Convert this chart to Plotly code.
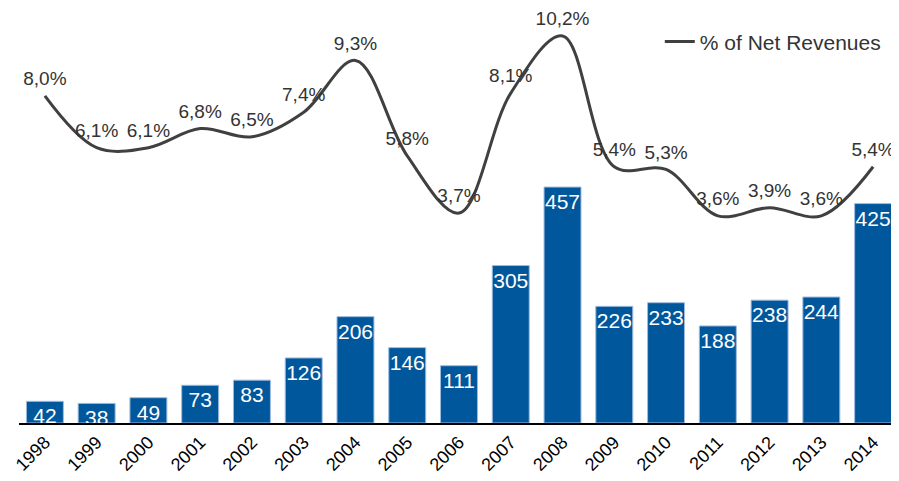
import plotly.graph_objects as go

years = ["1998", "1999", "2000", "2001", "2002", "2003", "2004", "2005", "2006",
         "2007", "2008", "2009", "2010", "2011", "2012", "2013", "2014"]
amounts = [42, 38, 49, 73, 83, 126, 206, 146, 111, 305, 457, 226, 233, 188, 238, 244, 425]
pct = [8.0, 6.1, 6.1, 6.8, 6.5, 7.4, 9.3, 5.8, 3.7, 8.1, 10.2, 5.4, 5.3, 3.6, 3.9, 3.6, 5.4]
pct_labels = [f"{v:.1f}%".replace(".", ",") for v in pct]

fig = go.Figure()
fig.add_trace(go.Bar(
    x=years, y=amounts, text=[str(v) for v in amounts],
    textposition="inside", insidetextanchor="end", textangle=0,
    constraintext="none", cliponaxis=True,
    textfont=dict(family="Liberation Sans, Arial, sans-serif", size=21, color="white"),
    marker=dict(color="#01579b", line=dict(color="#9dbbe0", width=1)),
    showlegend=False, hoverinfo="skip",
))
fig.add_trace(go.Scatter(
    x=years, y=pct, yaxis="y2", mode="lines+markers+text",
    name="% of Net Revenues",
    line=dict(color="#404040", width=3, shape="spline", smoothing=1.0),
    marker=dict(size=8, color="rgba(0,0,0,0)"),
    text=pct_labels, textposition="top center",
    textfont=dict(family="Liberation Sans, Arial, sans-serif", size=19, color="#333333"),
    cliponaxis=False,
))

fig.update_layout(
    width=891, height=473,
    margin=dict(l=11, r=0, t=2, b=58),
    paper_bgcolor="white", plot_bgcolor="white",
    bargap=0.286,
    xaxis=dict(showgrid=False, showline=True, linecolor="black", linewidth=1.5,
               tickangle=-45, ticks="", automargin=False, range=[-0.5, 16.5],
               tickfont=dict(family="Liberation Sans, Arial, sans-serif", size=18, color="black")),
    yaxis=dict(range=[0, 800], visible=False, showgrid=False),
    yaxis2=dict(range=[-4, 11.15], overlaying="y", visible=False, showgrid=False),
    legend=dict(x=0.985, xanchor="right", y=0.923, yanchor="middle",
                bgcolor="rgba(0,0,0,0)", itemwidth=30,
                font=dict(family="Liberation Sans, Arial, sans-serif", size=21, color="#333333")),
    showlegend=True,
)

fig.write_html("out.html")
